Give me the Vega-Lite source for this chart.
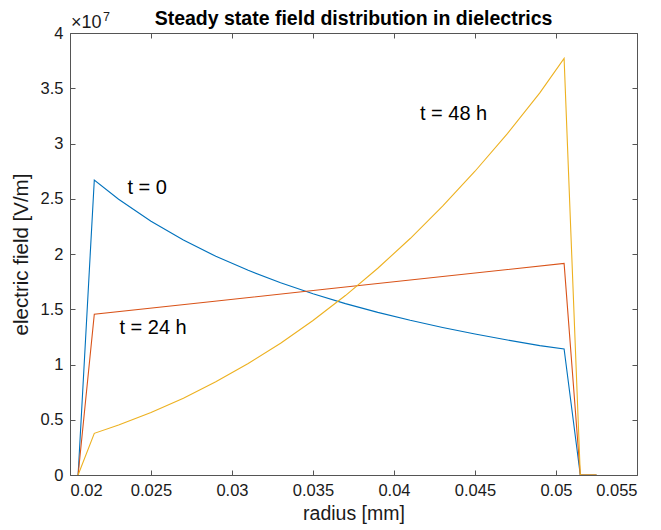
{
  "$schema": "https://vega.github.io/schema/vega-lite/v6.json",
  "width": 567,
  "height": 442,
  "autosize": "none",
  "padding": {"left": 70, "top": 33, "right": 24, "bottom": 55},
  "background": "white",
  "title": {"text": "Steady state field distribution in dielectrics", "fontSize": 19.5, "font": "Liberation Sans", "fontWeight": "bold", "color": "#000000", "offset": -18},
  "config": {
    "view": {"stroke": null},
    "font": "Liberation Sans",
    "axis": {"grid": false, "domainColor": "#555555", "tickColor": "#555555", "labelColor": "#1a1a1a", "titleColor": "#1a1a1a", "labelFont": "Liberation Sans", "titleFont": "Liberation Sans", "labelFontSize": 16.5, "titleFontSize": 19.5, "titleFontWeight": "normal", "tickSize": -5, "domainWidth": 1}
  },
  "datasets": {
    "lines": [
      {"series": "t = 0", "r": 0.0205, "E": 0},
      {"series": "t = 0", "r": 0.0215, "E": 2.67},
      {"series": "t = 0", "r": 0.023, "E": 2.496},
      {"series": "t = 0", "r": 0.025, "E": 2.296},
      {"series": "t = 0", "r": 0.027, "E": 2.126},
      {"series": "t = 0", "r": 0.029, "E": 1.979},
      {"series": "t = 0", "r": 0.031, "E": 1.852},
      {"series": "t = 0", "r": 0.033, "E": 1.739},
      {"series": "t = 0", "r": 0.035, "E": 1.64},
      {"series": "t = 0", "r": 0.037, "E": 1.551},
      {"series": "t = 0", "r": 0.039, "E": 1.472},
      {"series": "t = 0", "r": 0.041, "E": 1.4},
      {"series": "t = 0", "r": 0.043, "E": 1.335},
      {"series": "t = 0", "r": 0.045, "E": 1.276},
      {"series": "t = 0", "r": 0.047, "E": 1.221},
      {"series": "t = 0", "r": 0.049, "E": 1.171},
      {"series": "t = 0", "r": 0.0505, "E": 1.14},
      {"series": "t = 0", "r": 0.0515, "E": 0},
      {"series": "t = 0", "r": 0.0525, "E": 0},
      {"series": "t = 24 h", "r": 0.0205, "E": 0},
      {"series": "t = 24 h", "r": 0.0215, "E": 1.455},
      {"series": "t = 24 h", "r": 0.0285, "E": 1.566},
      {"series": "t = 24 h", "r": 0.036, "E": 1.685},
      {"series": "t = 24 h", "r": 0.043, "E": 1.796},
      {"series": "t = 24 h", "r": 0.0505, "E": 1.915},
      {"series": "t = 24 h", "r": 0.0515, "E": 0},
      {"series": "t = 24 h", "r": 0.0525, "E": 0},
      {"series": "t = 48 h", "r": 0.0205, "E": 0},
      {"series": "t = 48 h", "r": 0.0215, "E": 0.377},
      {"series": "t = 48 h", "r": 0.023, "E": 0.452},
      {"series": "t = 48 h", "r": 0.025, "E": 0.565},
      {"series": "t = 48 h", "r": 0.027, "E": 0.695},
      {"series": "t = 48 h", "r": 0.029, "E": 0.843},
      {"series": "t = 48 h", "r": 0.031, "E": 1.009},
      {"series": "t = 48 h", "r": 0.033, "E": 1.193},
      {"series": "t = 48 h", "r": 0.035, "E": 1.398},
      {"series": "t = 48 h", "r": 0.037, "E": 1.624},
      {"series": "t = 48 h", "r": 0.039, "E": 1.871},
      {"series": "t = 48 h", "r": 0.041, "E": 2.14},
      {"series": "t = 48 h", "r": 0.043, "E": 2.433},
      {"series": "t = 48 h", "r": 0.045, "E": 2.749},
      {"series": "t = 48 h", "r": 0.047, "E": 3.09},
      {"series": "t = 48 h", "r": 0.049, "E": 3.458},
      {"series": "t = 48 h", "r": 0.0505, "E": 3.77},
      {"series": "t = 48 h", "r": 0.0515, "E": 0},
      {"series": "t = 48 h", "r": 0.0525, "E": 0}
    ],
    "labels": [
      {"label": "t = 0", "r": 0.02355, "E": 2.6},
      {"label": "t = 24 h", "r": 0.02305, "E": 1.33},
      {"label": "t = 48 h", "r": 0.0416, "E": 3.27}
    ],
    "exp": [
      {"label": "×10", "r": 0.02, "E": 4}
    ],
    "exp7": [
      {"label": "7", "r": 0.02, "E": 4}
    ]
  },
  "resolve": {"axis": {"x": "independent", "y": "independent"}},
  "layer": [
    {
      "data": {"name": "lines"},
      "mark": {"type": "line", "strokeWidth": 1.1, "clip": true},
      "encoding": {
        "x": {"field": "r", "type": "quantitative", "scale": {"domain": [0.02, 0.055], "nice": false, "zero": false},
              "axis": {"title": "radius [mm]", "values": [0.02, 0.025, 0.03, 0.035, 0.04, 0.045, 0.05, 0.055], "format": "~g", "labelPadding": 12, "titlePadding": 6}},
        "y": {"field": "E", "type": "quantitative", "scale": {"domain": [0, 4], "nice": false},
              "axis": {"title": "electric field [V/m]", "titleFontSize": 20.5, "values": [0, 0.5, 1, 1.5, 2, 2.5, 3, 3.5, 4], "format": "~g", "labelPadding": 12, "titlePadding": 9}},
        "color": {"field": "series", "type": "nominal", "scale": {"domain": ["t = 0", "t = 24 h", "t = 48 h"], "range": ["#0072BD", "#D95319", "#EDB120"]}, "legend": null},
        "detail": {"field": "series"}
      }
    },
    {
      "data": {"name": "lines"},
      "mark": {"type": "line", "opacity": 0},
      "encoding": {
        "x": {"field": "r", "type": "quantitative", "axis": {"orient": "top", "labels": false, "title": null, "values": [0.02, 0.025, 0.03, 0.035, 0.04, 0.045, 0.05, 0.055]}},
        "y": {"field": "E", "type": "quantitative", "axis": {"orient": "right", "labels": false, "title": null, "values": [0, 0.5, 1, 1.5, 2, 2.5, 3, 3.5, 4]}},
        "detail": {"field": "series"}
      }
    },
    {
      "data": {"name": "labels"},
      "mark": {"type": "text", "align": "left", "baseline": "middle", "fontSize": 20, "font": "Liberation Sans", "color": "#000000"},
      "encoding": {
        "x": {"field": "r", "type": "quantitative", "axis": null},
        "y": {"field": "E", "type": "quantitative", "axis": null},
        "text": {"field": "label"}
      }
    },
    {
      "data": {"name": "exp"},
      "mark": {"type": "text", "align": "left", "baseline": "alphabetic", "fontSize": 18, "font": "Liberation Sans", "color": "#1a1a1a", "dx": 1, "dy": -5},
      "encoding": {
        "x": {"field": "r", "type": "quantitative", "axis": null},
        "y": {"field": "E", "type": "quantitative", "axis": null},
        "text": {"field": "label"}
      }
    },
    {
      "data": {"name": "exp7"},
      "mark": {"type": "text", "align": "left", "baseline": "alphabetic", "fontSize": 12.5, "font": "Liberation Sans", "color": "#1a1a1a", "dx": 33, "dy": -12},
      "encoding": {
        "x": {"field": "r", "type": "quantitative", "axis": null},
        "y": {"field": "E", "type": "quantitative", "axis": null},
        "text": {"field": "label"}
      }
    }
  ]
}
